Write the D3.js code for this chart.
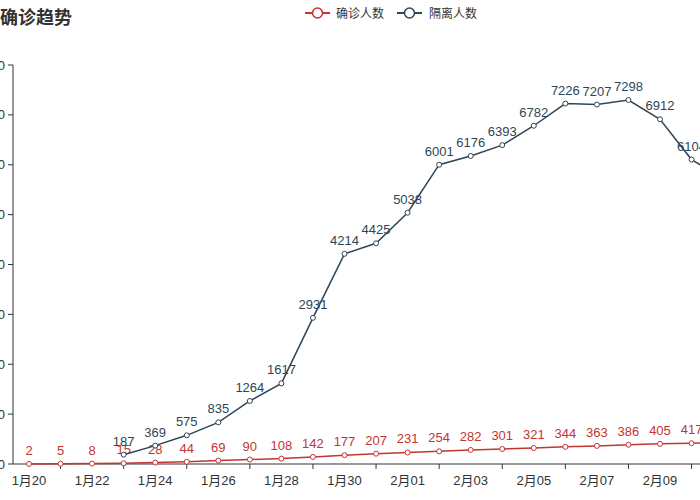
<!DOCTYPE html>
<html>
<head>
<meta charset="utf-8">
<script src="https://cdn.jsdelivr.net/npm/d3@7/dist/d3.min.js"></script>
<style>
  html, body { margin: 0; padding: 0; background: #fff; overflow: hidden; }
  svg { display: block; font-family: "Liberation Sans", "Noto Sans CJK SC", sans-serif; }
</style>
</head>
<body>
<svg id="chart" width="700" height="500"></svg>
<script>
// Dates on the category axis (the last one runs off the right edge, as in the reference)
const dates = ['1月20', '1月21', '1月22', '1月23', '1月24', '1月25', '1月26', '1月27', '1月28', '1月29',
  '1月30', '1月31', '2月01', '2月02', '2月03', '2月04', '2月05', '2月06', '2月07', '2月08',
  '2月09', '2月10', '2月11'];
// 确诊人数
const confirmed = [2, 5, 8, 15, 28, 44, 69, 90, 108, 142, 177, 207, 231, 254, 282, 301, 321, 344, 363, 386, 405, 417, 428];
// 隔离人数 (no data before 1月23)
const isolated = [null, null, null, 187, 369, 575, 835, 1264, 1617, 2931, 4214, 4425, 5038, 6001, 6176, 6393,
  6782, 7226, 7207, 7298, 6912, 6104, 5730];
const yTicks = [0, 1000, 2000, 3000, 4000, 5000, 6000, 7000, 8000];

const series = [
  { name: '确诊人数', values: confirmed, color: '#c23531' },
  { name: '隔离人数', values: isolated, color: '#2f4554' }
];

const svg = d3.select('#chart');
const axisColor = '#333';

const x = d3.scalePoint()
  .domain(dates)
  .range([29, 29 + 31.55 * (dates.length - 1)]);
const y = d3.scaleLinear().domain([0, 8000]).range([464, 65]);
const axisLeftX = 13;

// title
svg.append('text')
  .attr('x', 0).attr('y', 24)
  .attr('font-size', 18).attr('font-weight', 'bold')
  .attr('fill', '#333')
  .text('确诊趋势');

// legend
const legendPos = [{ icon: 305, text: 336 }, { icon: 397, text: 429 }];
series.forEach((s, i) => {
  const g = svg.append('g').attr('transform', `translate(${legendPos[i].icon},13)`);
  g.append('line').attr('x1', 0).attr('x2', 25).attr('y1', 0).attr('y2', 0)
    .attr('stroke', s.color).attr('stroke-width', 2);
  g.append('circle').attr('cx', 12.5).attr('cy', 0).attr('r', 5)
    .attr('fill', '#fff').attr('stroke', s.color).attr('stroke-width', 1.5);
  svg.append('text')
    .attr('x', legendPos[i].text).attr('y', 17.5)
    .attr('font-size', 12).attr('fill', '#333')
    .text(s.name);
});

// y axis
const yAxis = svg.append('g');
yAxis.append('line')
  .attr('x1', axisLeftX).attr('x2', axisLeftX)
  .attr('y1', y(8000)).attr('y2', y(0))
  .attr('stroke', axisColor);
yAxis.selectAll('g.tick')
  .data(yTicks)
  .join('g')
  .attr('class', 'tick')
  .attr('transform', (d) => `translate(0,${y(d)})`)
  .call((g) => {
    g.append('line').attr('x1', axisLeftX - 5).attr('x2', axisLeftX).attr('stroke', axisColor);
    g.append('text').attr('x', axisLeftX - 8).attr('dy', '0.35em')
      .attr('text-anchor', 'end').attr('font-size', 13).attr('fill', '#333')
      .text((d) => d);
  });

// x axis
const xAxis = svg.append('g');
xAxis.append('line')
  .attr('x1', axisLeftX).attr('x2', 700)
  .attr('y1', y(0)).attr('y2', y(0))
  .attr('stroke', axisColor);
xAxis.selectAll('line.tick')
  .data(dates.filter((d, i) => i % 2 === 1))
  .join('line')
  .attr('class', 'tick')
  .attr('x1', (d) => x(d)).attr('x2', (d) => x(d))
  .attr('y1', y(0)).attr('y2', y(0) + 5)
  .attr('stroke', axisColor);
xAxis.selectAll('text')
  .data(dates.filter((d, i) => i % 2 === 0))
  .join('text')
  .attr('x', (d) => x(d)).attr('y', y(0) + 21)
  .attr('text-anchor', 'middle').attr('font-size', 13).attr('fill', '#333')
  .text((d) => d);

// series lines, points, labels
const line = d3.line()
  .defined((d) => d != null)
  .x((d, i) => x(dates[i]))
  .y((d) => y(d));

series.forEach((s) => {
  const pts = s.values.map((v, i) => ({ v, date: dates[i] })).filter((d) => d.v != null);
  const g = svg.append('g');
  g.append('path')
    .datum(s.values)
    .attr('d', line)
    .attr('fill', 'none')
    .attr('stroke', s.color)
    .attr('stroke-width', 1.5);
  g.selectAll('circle')
    .data(pts)
    .join('circle')
    .attr('cx', (d) => x(d.date)).attr('cy', (d) => y(d.v))
    .attr('r', 2.5)
    .attr('fill', '#fff').attr('stroke', s.color).attr('stroke-width', 1);
  g.selectAll('text')
    .data(pts)
    .join('text')
    .attr('x', (d) => x(d.date)).attr('y', (d) => y(d.v) - 9)
    .attr('text-anchor', 'middle').attr('font-size', 13)
    .attr('fill', s.color)
    .text((d) => d.v);
});
</script>
</body>
</html>
